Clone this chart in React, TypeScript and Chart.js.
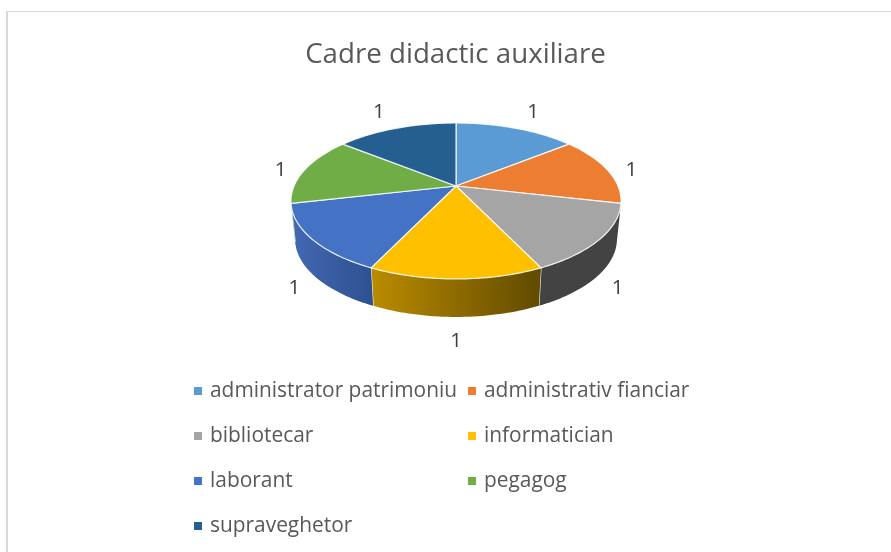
import React, { useEffect, useRef } from "react";
import { Chart, registerables } from "chart.js";

Chart.register(...registerables);

const categories = [
  "administrator patrimoniu",
  "administrativ fianciar",
  "bibliotecar",
  "informatician",
  "laborant",
  "pegagog",
  "supraveghetor",
];
const values = [1, 1, 1, 1, 1, 1, 1];
const sliceColors = ["#5b9bd5", "#ed7d31", "#a5a5a5", "#ffc000", "#4472c4", "#70ad47", "#255e91"];
const wallLeft = ["#5b9bd5", "#ed7d31", "#434343", "#bb8c00", "#4369b5", "#70ad47", "#255e91"];
const wallRight = ["#5b9bd5", "#ed7d31", "#434343", "#614a00", "#2e5190", "#70ad47", "#255e91"];
const legendRows = [391, 436, 481, 526];
const legendCols = [194, 468];

const FONT = '"Open Sans", sans-serif';
const CX = 456;
const APEX_Y = 186;
const A = 162;
const B = 75.1;
const P = -0.192;
const DEPTH = 38;
const BOTTOM_SCALE = 0.975;

// theta is measured clockwise from the top of the pie; the far edge has v = -1
function pt(theta: number, r = 1) {
  const u = r * Math.sin(theta);
  const v = -r * Math.cos(theta);
  const d = 1 + P * v;
  return { x: CX + (A * u) / d, y: APEX_Y + (B * v) / d };
}
function bottomPt(theta: number) {
  const p = pt(theta);
  return { x: CX + (p.x - CX) * BOTTOM_SCALE, y: p.y + DEPTH };
}

const pie3d = {
  id: "pie3d",
  beforeDatasetsDraw(chart: any) {
    const ctx: CanvasRenderingContext2D = chart.ctx;
    const arcs = chart.getDatasetMeta(0).data as any[];
    const WALL_START = (100 * Math.PI) / 180;
    const WALL_END = (260 * Math.PI) / 180;
    const angles = arcs.map((a) => ({
      s: a.startAngle + Math.PI / 2,
      e: a.endAngle + Math.PI / 2,
    }));
    ctx.save();
    ctx.lineJoin = "round";
    // side walls
    angles.forEach(({ s, e }, i) => {
      const from = Math.max(s, WALL_START);
      const to = Math.min(e, WALL_END);
      if (to <= from) return;
      const n = 40;
      ctx.beginPath();
      for (let k = 0; k <= n; k++) {
        const p = pt(from + ((to - from) * k) / n);
        k ? ctx.lineTo(p.x, p.y) : ctx.moveTo(p.x, p.y);
      }
      for (let k = n; k >= 0; k--) {
        const p = bottomPt(from + ((to - from) * k) / n);
        ctx.lineTo(p.x, p.y);
      }
      ctx.closePath();
      const x1 = pt(to).x;
      const x2 = pt(from).x;
      const g = ctx.createLinearGradient(x1, 0, x2, 0);
      g.addColorStop(0, wallLeft[i]);
      g.addColorStop(1, wallRight[i]);
      ctx.fillStyle = g;
      ctx.fill();
      // seam between neighbouring walls
      if (e < WALL_END && e > WALL_START) {
        const a = pt(e);
        const b = bottomPt(e);
        ctx.strokeStyle = "rgba(255,255,255,0.9)";
        ctx.lineWidth = 1.2;
        ctx.beginPath();
        ctx.moveTo(a.x, a.y);
        ctx.lineTo(b.x, b.y);
        ctx.stroke();
      }
    });
    // top faces
    angles.forEach(({ s, e }, i) => {
      const n = 40;
      ctx.beginPath();
      ctx.moveTo(CX, APEX_Y);
      for (let k = 0; k <= n; k++) {
        const p = pt(s + ((e - s) * k) / n);
        ctx.lineTo(p.x, p.y);
      }
      ctx.closePath();
      ctx.fillStyle = sliceColors[i];
      ctx.fill();
      ctx.strokeStyle = "rgba(255,255,255,0.85)";
      ctx.lineWidth = 1.2;
      ctx.stroke();
    });
    ctx.restore();
    return false;
  },
  afterDraw(chart: any) {
    const ctx: CanvasRenderingContext2D = chart.ctx;
    const arcs = chart.getDatasetMeta(0).data as any[];
    ctx.save();
    // data labels
    ctx.fillStyle = "#404040";
    ctx.font = `20.5px ${FONT}`;
    ctx.textAlign = "center";
    ctx.textBaseline = "middle";
    arcs.forEach((a, i) => {
      const mid = (a.startAngle + a.endAngle) / 2 + Math.PI / 2;
      const p = pt(mid);
      const dx = (p.x - CX) / Math.hypot(p.x - CX, p.y - APEX_Y);
      const dy = (p.y - APEX_Y) / Math.hypot(p.x - CX, p.y - APEX_Y);
      const front = -Math.cos(mid) > 0;
      ctx.fillText(
        String(values[i]),
        p.x + dx * (front ? 19 : 24),
        p.y + dy * 24 + 3 * dx ** 4 + (front ? DEPTH : 0)
      );
    });
    // legend
    ctx.textAlign = "left";
    ctx.font = `20.9px ${FONT}`;
    categories.forEach((c, i) => {
      const x = legendCols[i % 2];
      const y = legendRows[Math.floor(i / 2)];
      ctx.fillStyle = sliceColors[i];
      ctx.fillRect(x, y - 4, 8, 8);
      ctx.fillStyle = "#595959";
      ctx.fillText(c, x + 16, y);
    });
    ctx.restore();
  },
};

export default function App() {
  const ref = useRef<HTMLCanvasElement | null>(null);
  useEffect(() => {
    if (!ref.current) return;
    const chart = new Chart(ref.current, {
      type: "pie",
      data: {
        labels: categories,
        datasets: [{ data: values, backgroundColor: sliceColors }],
      },
      options: {
        animation: false,
        responsive: false,
        layout: { padding: { left: 20, top: 38 } },
        plugins: {
          legend: { display: false },
          tooltip: { enabled: false },
          title: {
            display: true,
            text: "Cadre didactic auxiliare",
            color: "#595959",
            font: { family: FONT, size: 27.7, weight: "normal" },
            padding: 0,
          },
        },
      },
      plugins: [pie3d],
    } as any);
    return () => chart.destroy();
  }, []);
  return (
    <div style={{ position: "fixed", left: 0, top: 0, width: 891, height: 552, background: "#fff" }}>
      <canvas ref={ref} width={891} height={552} style={{ position: "absolute", left: 0, top: 0 }} />
      <div style={{ position: "absolute", left: 6, top: 11, width: 885, height: 1, background: "#d9d9d9" }} />
      <div style={{ position: "absolute", left: 6, top: 11, width: 2, height: 541, background: "#d9d9d9" }} />
    </div>
  );
}
